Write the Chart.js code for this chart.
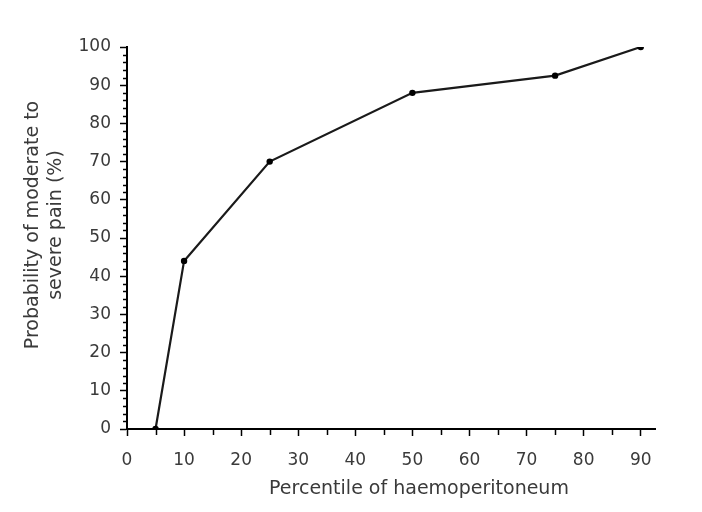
<!DOCTYPE html>
<html>
<head>
<meta charset="utf-8">
<script src="https://cdn.jsdelivr.net/npm/chart.js@4/dist/chart.umd.min.js"></script>
<style>
  body { margin: 0; background: #fff; }
  #caixa { width: 702px; height: 512px; }
</style>
</head>
<body>
<div id="caixa"><canvas id="meuGrafico"></canvas></div>
<script>
// Data
var percentis = [5, 10, 25, 50, 75, 90];
var probabilidades = [0, 44, 70, 88, 92.5, 100];

var ticksX = [0, 10, 20, 30, 40, 50, 60, 70, 80, 90];
var ticksY = [0, 10, 20, 30, 40, 50, 60, 70, 80, 90, 100];

var tituloX = 'Percentile of haemoperitoneum';
var tituloY = ['Probability of moderate to', 'severe pain (%)'];

var fonte = '"DejaVu Sans", sans-serif';
var corTexto = '#3a3a3a';

// Minor ticks and axis titles
var pluginEixos = {
    id: 'eixos',
    afterDraw: function(chart) {
        var ctx = chart.ctx;
        var x = chart.scales.x;
        var y = chart.scales.y;
        var area = chart.chartArea;

        ctx.save();
        ctx.strokeStyle = '#000';
        ctx.lineWidth = 1.5;
        ctx.beginPath();
        for (var v = 2; v < 100; v += 2) {
            if (v % 10 === 0) continue;
            var py = Math.round(y.getPixelForValue(v)) + 0.5;
            ctx.moveTo(area.left - 4, py);
            ctx.lineTo(area.left, py);
        }
        for (var u = 5; u < 90; u += 10) {
            var px = Math.round(x.getPixelForValue(u)) + 0.5;
            ctx.moveTo(px, area.bottom);
            ctx.lineTo(px, area.bottom + 6);
        }
        ctx.stroke();

        ctx.fillStyle = corTexto;
        ctx.font = '19px ' + fonte;
        ctx.textAlign = 'center';
        ctx.textBaseline = 'middle';
        ctx.fillText(tituloX, (area.left + area.right) / 2 + 28, 489);

        ctx.translate(44, (area.top + area.bottom) / 2 - 13);
        ctx.rotate(-Math.PI / 2);
        ctx.fillText(tituloY[0], 0, -11);
        ctx.fillText(tituloY[1], 0, 12);
        ctx.restore();
    }
};

var canvas = document.getElementById('meuGrafico');
var contexto = canvas.getContext('2d');

var meuGrafico = new Chart(contexto, {
    type: 'scatter',
    data: {
        datasets: [{
            data: percentis.map(function(p, i) {
                return { x: p, y: probabilidades[i] };
            }),
            showLine: true,
            borderColor: '#1a1a1a',
            borderWidth: 2.2,
            pointRadius: 3.2,
            pointBackgroundColor: '#000',
            pointBorderColor: '#000',
            pointBorderWidth: 0
        }]
    },
    options: {
        responsive: true,
        maintainAspectRatio: false,
        animation: false,
        layout: { padding: { left: 0, top: 47, right: 47, bottom: 0 } },
        plugins: {
            legend: { display: false },
            tooltip: { enabled: false }
        },
        scales: {
            x: {
                type: 'linear',
                min: 0,
                max: 92.5,
                afterFit: function(scale) { scale.height = 83; },
                afterBuildTicks: function(scale) {
                    scale.ticks = ticksX.map(function(v) { return { value: v }; });
                },
                border: { color: '#000', width: 2 },
                grid: { drawOnChartArea: false, tickLength: 7, tickColor: '#000', tickWidth: 1.5 },
                ticks: {
                    color: corTexto,
                    font: { family: fonte, size: 17 },
                    padding: 14,
                    maxRotation: 0,
                    autoSkip: false
                }
            },
            y: {
                min: 0,
                max: 100,
                afterFit: function(scale) { scale.width = 127; },
                afterBuildTicks: function(scale) {
                    scale.ticks = ticksY.map(function(v) { return { value: v }; });
                },
                border: { color: '#000', width: 2 },
                grid: { drawOnChartArea: false, tickLength: 7, tickColor: '#000', tickWidth: 1.5 },
                ticks: {
                    color: corTexto,
                    font: { family: fonte, size: 17 },
                    padding: 9,
                    autoSkip: false
                }
            }
        }
    },
    plugins: [pluginEixos]
});
</script>
</body>
</html>
